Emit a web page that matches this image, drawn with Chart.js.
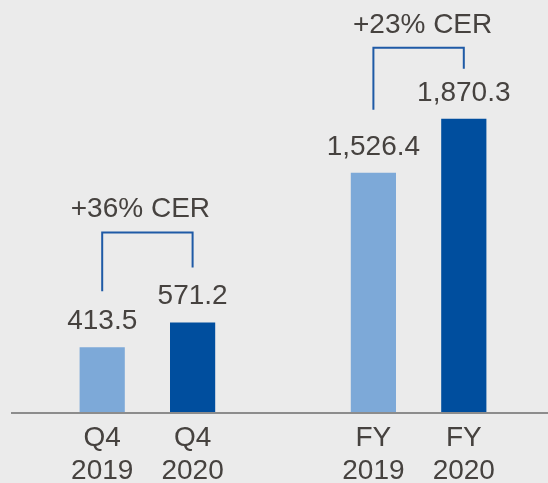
<!DOCTYPE html>
<html>
<head>
<meta charset="utf-8">
<script src="https://cdn.jsdelivr.net/npm/chart.js@4"></script>
<style>
    html, body { margin: 0; padding: 0; background: #ebebeb; }
    #wrap { width: 548px; height: 483px; }
</style>
</head>
<body>
<div id="wrap"><canvas id="sales" width="548" height="483"></canvas></div>
<script>
// ─── Data ───
const categories = [['Q4', '2019'], ['Q4', '2020'], '', ['FY', '2019'], ['FY', '2020']];
const salesValues = [413.5, 571.2, null, 1526.4, 1870.3];
const growthPairs = [[0, 1], [3, 4]];
const growthLabels = ['+36% CER', '+23% CER'];

const LIGHT = '#7da9d8';
const DARK = '#004e9e';
const TEXT = '#46423f';
const BRACKET = '#1f5aa6';
const FONT = "'Liberation Sans', Arial, sans-serif";

// bracket geometry (pixels relative to bar tops)
const BRACKET_STYLE = [
    { rise: 90, legLeft: 56, legRight: 55, textDx: -7 },
    { rise: 71, legLeft: 63, legRight: 50, textDx: 4 }
];

const annotate = {
    id: 'annotate',
    afterDatasetsDraw(chart) {
        const ctx = chart.ctx;
        const bars = chart.getDatasetMeta(0).data;
        const y0 = chart.scales.y.getPixelForValue(0);

        ctx.save();
        // baseline across the full width
        ctx.strokeStyle = '#8c8c8c';
        ctx.lineWidth = 2;
        ctx.beginPath();
        ctx.moveTo(11, y0 + 1);
        ctx.lineTo(chart.width, y0 + 1);
        ctx.stroke();

        // value labels
        ctx.fillStyle = TEXT;
        ctx.font = '28px ' + FONT;
        ctx.textAlign = 'center';
        ctx.textBaseline = 'alphabetic';
        salesValues.forEach((v, i) => {
            if (v === null) return;
            const txt = v.toLocaleString('en-US', { minimumFractionDigits: 1, maximumFractionDigits: 1 });
            ctx.fillText(txt, bars[i].x, bars[i].y - 18);
        });

        // growth brackets
        growthPairs.forEach(([a, b], k) => {
            const s = BRACKET_STYLE[k];
            const xa = bars[a].x, xb = bars[b].x;
            const top = Math.min(bars[a].y, bars[b].y) - s.rise;
            ctx.strokeStyle = BRACKET;
            ctx.lineWidth = 2;
            ctx.beginPath();
            ctx.moveTo(xa, bars[a].y - s.legLeft);
            ctx.lineTo(xa, top);
            ctx.lineTo(xb, top);
            ctx.lineTo(xb, bars[b].y - s.legRight);
            ctx.stroke();
            ctx.fillStyle = TEXT;
            ctx.fillText(growthLabels[k], (xa + xb) / 2 + s.textDx, top - 15);
        });
        ctx.restore();
    }
};

new Chart(document.getElementById('sales'), {
    type: 'bar',
    data: {
        labels: categories,
        datasets: [{
            data: salesValues,
            backgroundColor: [LIGHT, DARK, LIGHT, LIGHT, DARK],
            borderWidth: 0,
            barPercentage: 0.5,
            categoryPercentage: 1.0
        }]
    },
    options: {
        responsive: false,
        animation: false,
        layout: { padding: { top: 20, left: 57, right: 39, bottom: 0 } },
        plugins: { legend: { display: false }, tooltip: { enabled: false } },
        scales: {
            x: {
                grid: { display: false },
                border: { display: false },
                ticks: {
                    color: TEXT,
                    padding: 1,
                    maxRotation: 0,
                    autoSkip: false,
                    font: { family: FONT, size: 28, lineHeight: 1.2 }
                },
                afterFit(scale) { scale.height = 71; }
            },
            y: {
                display: false,
                min: 0,
                max: 2500
            }
        }
    },
    plugins: [annotate]
});
</script>
</body>
</html>
